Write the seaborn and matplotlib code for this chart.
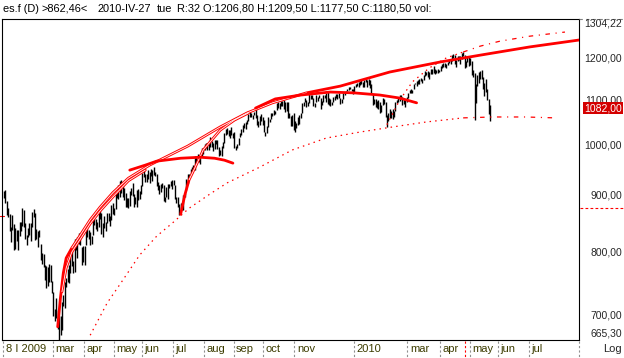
import numpy as np
import pandas as pd
import matplotlib
matplotlib.use("Agg")
import matplotlib.pyplot as plt
import matplotlib.transforms as mtransforms
from matplotlib.lines import Line2D
from matplotlib.ticker import NullLocator
import seaborn as sns

# ---------------------------------------------------------------- data
first_day = "2009-01-08"
calendar_end = "2010-08-31"
holidays = ["2009-01-19", "2009-02-16", "2009-04-10", "2009-05-25", "2009-07-03",
            "2009-09-07", "2009-11-26", "2009-12-25", "2010-01-01", "2010-01-18",
            "2010-02-15", "2010-04-02", "2010-05-31", "2010-07-05"]

lows_2009_01 = [896, 887, 864, 861, 836, 817, 838, 803, 805, 818, 804, 828, 836, 845, 843, 822]
highs_2009_01 = [910, 911, 890, 877, 866, 844, 865, 849, 841, 838, 838, 852, 852, 877, 873, 851]
lows_2009_02 = [812, 825, 830, 819, 844, 861, 820, 822, 808, 825, 787, 780, 775, 754, 742, 745, 751, 751, 734]
highs_2009_02 = [829, 842, 851, 850, 870, 875, 868, 839, 836, 838, 813, 798, 797, 779, 777, 775, 780, 779, 753]
lows_2009_03 = [699, 692, 697, 681, 665.3, 672, 679, 714, 712, 744, 751, 749, 765, 777, 765, 768, 804, 790, 814, 812, 778, 783]
highs_2009_03 = [735, 710, 727, 708, 700, 699, 720, 731, 751, 758, 772, 778, 796, 803, 785, 822, 823, 826, 832, 828, 809, 810]
lows_2009_04 = [779, 812, 826, 823, 812, 814, 829, 847, 839, 836, 844, 857, 831, 826, 842, 837, 850, 853, 845, 855, 866]
highs_2009_04 = [811, 842, 842, 838, 835, 828, 856, 864, 858, 852, 870, 875, 868, 851, 862, 852, 868, 869, 862, 883, 887]
lows_2009_05 = [865, 876, 896, 895, 897, 906, 897, 893, 880, 880, 878, 882, 901, 899, 880, 885, 880, 893, 895, 904]
highs_2009_05 = [878, 907, 907, 920, 929, 930, 923, 915, 905, 896, 896, 910, 915, 924, 903, 897, 911, 914, 910, 920]
lows_2009_06 = [919, 937, 926, 927, 932, 924, 938, 928, 940, 939, 919, 911, 904, 908, 915, 890, 888, 898, 895, 915, 918, 913]
highs_2009_06 = [945, 950, 943, 943, 951, 946, 952, 950, 956, 947, 943, 926, 921, 922, 924, 920, 898, 917, 923, 922, 928, 931]
lows_2009_07 = [921, 894, 886, 879, 864, 876, 874, 874, 898, 911, 925, 934, 942, 944, 950, 951, 967, 969, 967, 962, 977, 983]
highs_2009_07 = [931, 920, 898, 898, 884, 887, 887, 901, 906, 933, 943, 942, 952, 956, 960, 978, 979, 982, 978, 976, 996, 994]
lows_2009_08 = [990, 996, 991, 990, 997, 998, 989, 992, 1004, 994, 978, 980, 978, 996, 1006, 1022, 1025, 1021, 1016, 1022, 1016]
highs_2009_08 = [1003, 1005, 1006, 1008, 1018, 1010, 1006, 1013, 1013, 1012, 998, 991, 999, 1008, 1027, 1035, 1038, 1033, 1034, 1039, 1027]
lows_2009_09 = [995, 991, 995, 1002, 1018, 1022, 1029, 1038, 1036, 1046, 1052, 1061, 1063, 1057, 1066, 1060, 1044, 1040, 1045, 1054, 1045]
highs_2009_09 = [1029, 1000, 1003, 1017, 1026, 1036, 1044, 1048, 1050, 1056, 1069, 1075, 1071, 1067, 1073, 1080, 1067, 1053, 1064, 1069, 1063]
lows_2009_10 = [1029, 1020, 1026, 1041, 1050, 1058, 1064, 1067, 1068, 1078, 1083, 1081, 1086, 1086, 1080, 1074, 1075, 1060, 1059, 1042, 1043, 1033]
highs_2009_10 = [1056, 1030, 1042, 1061, 1058, 1071, 1072, 1077, 1075, 1093, 1096, 1094, 1098, 1098, 1101, 1095, 1096, 1095, 1072, 1064, 1066, 1070]
lows_2009_11 = [1029, 1037, 1045, 1047, 1059, 1070, 1086, 1095, 1085, 1087, 1093, 1102, 1102, 1086, 1085, 1095, 1099, 1105, 1079, 1088]
highs_2009_11 = [1052, 1048, 1062, 1066, 1071, 1093, 1096, 1106, 1101, 1097, 1114, 1111, 1112, 1106, 1094, 1113, 1107, 1112, 1106, 1098]
lows_2009_12 = [1096, 1104, 1097, 1091, 1090, 1086, 1089, 1097, 1101, 1105, 1102, 1105, 1091, 1094, 1102, 1113, 1116, 1121, 1124, 1125, 1121, 1114]
highs_2009_12 = [1112, 1113, 1117, 1119, 1106, 1103, 1097, 1108, 1110, 1115, 1114, 1117, 1105, 1103, 1117, 1120, 1122, 1126, 1130, 1130, 1127, 1127]
lows_2010_01 = [1116, 1130, 1134, 1131, 1136, 1139, 1131, 1132, 1142, 1131, 1135, 1129, 1114, 1090, 1092, 1085, 1083, 1081, 1071]
highs_2010_01 = [1133, 1137, 1140, 1142, 1145, 1149, 1143, 1148, 1149, 1148, 1150, 1147, 1139, 1115, 1103, 1103, 1099, 1101, 1097]
lows_2010_02 = [1074, 1090, 1092, 1062, 1040, 1054, 1060, 1060, 1057, 1063, 1076, 1093, 1095, 1098, 1105, 1089, 1091, 1084, 1097]
highs_2010_02 = [1090, 1104, 1102, 1097, 1067, 1072, 1080, 1075, 1080, 1076, 1095, 1101, 1108, 1112, 1112, 1108, 1103, 1103, 1107]
lows_2010_03 = [1105, 1116, 1117, 1116, 1125, 1137, 1133, 1139, 1139, 1146, 1141, 1148, 1158, 1160, 1155, 1150, 1163, 1163, 1165, 1162, 1165, 1165, 1168]
highs_2010_03 = [1117, 1124, 1125, 1124, 1139, 1141, 1145, 1148, 1150, 1153, 1150, 1160, 1169, 1166, 1169, 1167, 1175, 1174, 1181, 1174, 1173, 1174, 1172]
lows_2010_04 = [1170, 1176, 1180, 1180, 1178, 1184, 1190, 1187, 1195, 1203, 1186, 1180, 1195, 1198, 1188, 1200, 1208, 1177.5, 1180, 1192, 1183]
highs_2010_04 = [1182, 1188, 1190, 1189, 1188, 1193, 1196, 1196, 1209, 1212, 1210, 1197, 1206, 1208, 1207, 1214, 1218, 1209.5, 1195, 1205, 1207]
lows_2010_05 = [1184, 1160, 1155, 1056, 1094, 1134, 1140, 1150, 1150, 1127, 1110, 1118, 1100, 1068, 1052]
highs_2010_05 = [1202, 1195, 1171, 1165, 1137, 1160, 1167, 1170, 1171, 1155, 1140, 1150, 1125, 1103, 1090]

# red curves (date, value)
arc_main_dates = ["2009-03-05", "2009-03-09", "2009-03-11", "2009-03-13", "2009-03-19", "2009-03-27",
                  "2009-04-07", "2009-04-17", "2009-04-30", "2009-05-15", "2009-06-08", "2009-07-16",
                  "2009-08-18", "2009-09-15", "2009-10-09", "2009-11-12", "2009-12-17", "2010-02-09",
                  "2010-04-01", "2010-05-12", "2010-07-01", "2010-08-20"]
arc_main_values = [684, 728, 766, 790, 807, 829, 856, 879, 906, 934, 960, 999,
                   1040, 1071, 1094, 1117, 1133, 1167, 1192, 1209, 1230, 1248]
arc_main_hollow = ("2009-03-19", "2009-11-12")

arc_second_dates = ["2009-03-10", "2009-03-13", "2009-03-19", "2009-03-27", "2009-04-07",
                    "2009-04-17", "2009-04-30", "2009-05-15", "2009-06-03"]
arc_second_values = [736, 774, 800, 822, 849, 872, 898, 929, 950]

arc_july_dates = ["2009-07-09", "2009-07-14", "2009-07-17", "2009-07-23", "2009-07-31",
                  "2009-08-18", "2009-09-01", "2009-09-16"]
arc_july_values = [866, 902, 931, 954, 991, 1033, 1055, 1071]
arc_july_hollow = ("2009-07-17", "2009-09-16")

dome1_dates = ["2009-05-18", "2009-06-03", "2009-06-15", "2009-07-09", "2009-07-29",
               "2009-08-12", "2009-08-21", "2009-08-31"]
dome1_values = [950, 960, 968, 974, 976, 974, 970, 964]

dome2_dates = ["2009-09-23", "2009-10-13", "2009-11-06", "2009-12-08", "2010-01-04",
               "2010-01-29", "2010-02-19", "2010-03-09"]
dome2_values = [1082, 1103, 1112, 1119, 1117, 1112, 1105, 1094]

upper_dot_dates = ["2010-02-05", "2010-02-19", "2010-03-04", "2010-03-22", "2010-04-08",
                   "2010-04-26", "2010-05-12", "2010-06-02", "2010-07-01", "2010-08-06"]
upper_dot_values = [1045, 1100, 1143, 1177, 1202, 1217, 1232, 1245, 1258, 1269]

lower_dot_dates = ["2009-04-07", "2009-04-24", "2009-05-11", "2009-05-28", "2009-06-15",
                   "2009-07-01", "2009-07-17", "2009-08-07", "2009-08-25", "2009-09-28",
                   "2009-10-29", "2009-12-03", "2010-01-08", "2010-02-11", "2010-03-18",
                   "2010-04-26", "2010-05-25", "2010-06-28", "2010-07-28"]
lower_dot_values = [672, 719, 754, 795, 827, 852, 877, 904, 925, 956, 991, 1016, 1029,
                    1040, 1051, 1060, 1062, 1062, 1060]
projection_start = "2010-04-26"

month_labels = ["8 I 2009", "mar", "apr", "may", "jun", "jul", "aug", "sep", "oct", "nov",
                "2010", "mar", "apr", "may", "jun", "jul"]
month_dates = ["2009-01-08", "2009-03-02", "2009-04-01", "2009-05-01", "2009-06-01", "2009-07-01",
               "2009-08-03", "2009-09-01", "2009-10-01", "2009-11-02", "2010-01-04", "2010-03-01",
               "2010-04-01", "2010-05-03", "2010-06-01", "2010-07-01"]
cursor_date = "2010-04-27"

y_ticks = [700, 800, 900, 1000, 1100, 1200]
y_bottom, y_top = 665.30, 1304.22
last_price = 1082.00
level_left = 862.46
level_right = 878.0

title_parts = ["es.f (D)", ">862,46<", "2010-IV-27", "tue",
               "R:32 O:1206,80 H:1209,50 L:1177,50 C:1180,50 vol:"]

# ---------------------------------------------------------------- assemble
lows = (lows_2009_01 + lows_2009_02 + lows_2009_03 + lows_2009_04 + lows_2009_05 + lows_2009_06 +
        lows_2009_07 + lows_2009_08 + lows_2009_09 + lows_2009_10 + lows_2009_11 + lows_2009_12 +
        lows_2010_01 + lows_2010_02 + lows_2010_03 + lows_2010_04 + lows_2010_05)
highs = (highs_2009_01 + highs_2009_02 + highs_2009_03 + highs_2009_04 + highs_2009_05 + highs_2009_06 +
         highs_2009_07 + highs_2009_08 + highs_2009_09 + highs_2009_10 + highs_2009_11 + highs_2009_12 +
         highs_2010_01 + highs_2010_02 + highs_2010_03 + highs_2010_04 + highs_2010_05)
n = min(len(lows), len(highs))
lows, highs = np.array(lows[:n], float), np.array(highs[:n], float)

cal = pd.bdate_range(first_day, calendar_end, freq="C", holidays=holidays)


def pos(dates):
    return cal.get_indexer(pd.to_datetime(dates), method="nearest").astype(float)


# ---------------------------------------------------------------- style
sns.set_style("white")
plt.rcParams["font.family"] = ["Liberation Sans", "DejaVu Sans"]
FS = 7.5
RED = "#ff0000"

W, H = 624, 358
fig = plt.figure(figsize=(W / 100, H / 100), dpi=100)
AX_L, AX_R, AX_T, AX_B = 2, 579, 19, 340
ax = fig.add_axes([AX_L / W, 1 - AX_B / H, (AX_R - AX_L) / W, (AX_B - AX_T) / H])
ax.set_facecolor("white")
ax.set_yscale("log")
ax.set_ylim(y_bottom, y_top)
PX_PER_BAR, X0 = 1.413, 4.0
ax.set_xlim((AX_L - X0) / PX_PER_BAR, (AX_R - X0) / PX_PER_BAR)
for s in ax.spines.values():
    s.set_color("black")
    s.set_linewidth(0.8)
for axis in (ax.xaxis, ax.yaxis):
    axis.set_major_locator(NullLocator())
    axis.set_minor_locator(NullLocator())
ax.tick_params(which="both", left=False, right=False, bottom=False, top=False,
               labelleft=False, labelbottom=False)

# OHLC high-low bars
ax.vlines(np.arange(n), lows, highs, color="black", linewidth=1.0, zorder=2)

THICK = 2.0
CORE = 0.6


def curve(dates, values, **kw):
    sns.lineplot(x=pos(dates), y=values, ax=ax, sort=False, estimator=None,
                 legend=False, color=RED, **kw)


def hollow(dates, values, start, end):
    d = pd.to_datetime(dates)
    m = (d >= pd.Timestamp(start)) & (d <= pd.Timestamp(end))
    sel_d = [x for x, k in zip(dates, m) if k]
    sel_v = [v for v, k in zip(values, m) if k]
    sns.lineplot(x=pos(sel_d), y=sel_v, ax=ax, sort=False, estimator=None,
                 legend=False, color="white", linewidth=CORE, zorder=4)


# solid / hollow arcs
curve(arc_main_dates, arc_main_values, linewidth=THICK, zorder=3)
hollow(arc_main_dates, arc_main_values, *arc_main_hollow)
curve(arc_second_dates, arc_second_values, linewidth=THICK, zorder=3)
hollow(arc_second_dates, arc_second_values, arc_second_dates[0], arc_second_dates[-1])
curve(arc_july_dates, arc_july_values, linewidth=THICK, zorder=3)
hollow(arc_july_dates, arc_july_values, *arc_july_hollow)
curve(dome1_dates, dome1_values, linewidth=THICK, zorder=5)
curve(dome2_dates, dome2_values, linewidth=THICK, zorder=5)

# dotted curves, dash-dot after the projection start
DOT = (0, (1.2, 3.3))
DASHDOT = (0, (3.6, 4.5, 0.9, 4.5))
for dts, vals in ((upper_dot_dates, upper_dot_values), (lower_dot_dates, lower_dot_values)):
    d = pd.to_datetime(dts)
    k = int(np.searchsorted(d, pd.Timestamp(projection_start))) + 1
    curve(dts[:k], vals[:k], linewidth=0.9, linestyle=DOT, zorder=3)
    curve(dts[k - 1:], vals[k - 1:], linewidth=0.9, linestyle=DASHDOT, zorder=3)

# ---------------------------------------------------------------- texts & decorations
ty = 1 - 8.5 / H
for xpx, s in zip([3, 42, 97, 157, 177], title_parts):
    fig.text(xpx / W, ty, s, fontsize=7.9, ha="left", va="center", color="black")
fig.add_artist(Line2D([AX_R / W, 1], [1 - AX_T / H] * 2, transform=fig.transFigure,
                      color="#808080", lw=0.8, ls=(0, (3, 3))))

# right labels
tr_right = mtransforms.blended_transform_factory(fig.transFigure, ax.transData)
RX = 622 / W
for v in y_ticks:
    ax.text(RX, v, f"{v:.2f}".replace(".", ","), transform=tr_right, fontsize=FS,
            ha="right", va="center", clip_on=False)
fig.text(RX, 1 - 24 / H, f"{y_top:.2f}".replace(".", ","), fontsize=FS, ha="right", va="center")
fig.text(RX, 1 - 333 / H, f"{y_bottom:.2f}".replace(".", ","), fontsize=FS, ha="right", va="center")
fig.text(RX, 1 - 349 / H, "Log", fontsize=FS + 0.5, ha="right", va="center")
ax.text(RX, last_price, f"{last_price:.2f}".replace(".", ","), transform=tr_right, fontsize=FS,
        ha="right", va="center", color="white", clip_on=False, zorder=10,
        bbox=dict(boxstyle="square,pad=0.12", fc="#d40000", ec="none"))

# level markers outside plot
ax.plot([AX_R / W + 0.002, 1], [level_right] * 2, transform=tr_right, color=RED, lw=0.8,
        ls=(0, (2.5, 2)), clip_on=False)
ax.plot([0, AX_L / W + 0.004], [level_left] * 2, transform=tr_right, color=RED, lw=0.8,
        clip_on=False)

# month separators & labels below the axis
tr_bot = mtransforms.blended_transform_factory(ax.transData, fig.transFigure)
sep_y = [1 - (AX_B + 1) / H, 0]
for lab, x in zip(month_labels, pos(month_dates)):
    xs = x - 0.5
    ax.add_line(Line2D([xs, xs], sep_y, transform=tr_bot, color="#909090", lw=0.8,
                       ls=(0, (2, 2)), clip_on=False))
    ax.text(xs, 1 - 349 / H, lab, transform=mtransforms.offset_copy(tr_bot, fig=fig, x=2.5, units="dots"),
            fontsize=FS + 0.5, ha="left", va="center", color="#3c3c00", clip_on=False)
fig.add_artist(Line2D([AX_R / W] * 2, sep_y, transform=fig.transFigure, color="#909090",
                      lw=0.8, ls=(0, (2, 2))))
xc = pos([cursor_date])[0]
ax.add_line(Line2D([xc, xc], sep_y, transform=tr_bot, color=RED, lw=0.8, ls=(0, (2, 2)),
                   clip_on=False))

fig.savefig("out.png", dpi=100, facecolor="white")
